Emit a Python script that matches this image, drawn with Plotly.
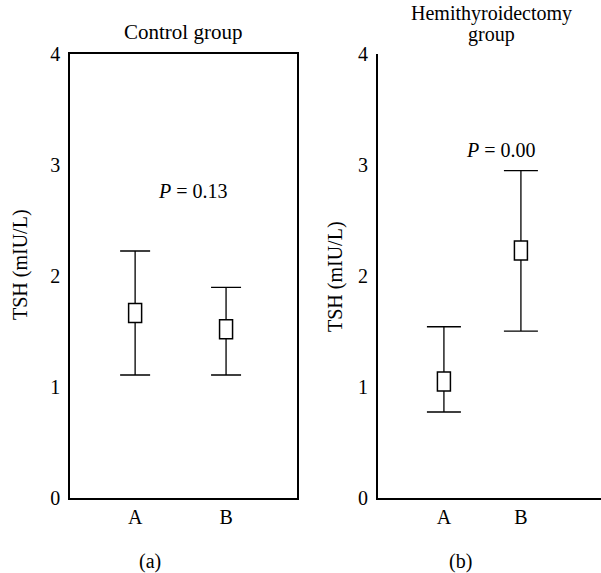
import plotly.graph_objects as go

# ---- data ----
categories = ["A", "B"]
y_ticks = [0, 1, 2, 3, 4]

control_mean = [1.667, 1.52]
control_upper = [2.225, 1.898]
control_lower = [1.108, 1.108]

hemi_mean = [1.05, 2.23]
hemi_upper = [1.543, 2.949]
hemi_lower = [0.775, 1.504]

p_control = "<i>P</i> = 0.13"
p_hemi = "<i>P</i> = 0.00"

FONT = "Liberation Serif"
FS = 20
W, H = 601, 573

fig = go.Figure()

def add_group(means, uppers, lowers, xref, yref, capw):
    xs = list(range(len(means)))
    fig.add_trace(go.Scatter(
        x=xs, y=means, mode="markers",
        marker=dict(size=1, color="rgba(0,0,0,0)"),
        error_y=dict(type="data", symmetric=False,
                     array=[u - m for u, m in zip(uppers, means)],
                     arrayminus=[m - l for m, l in zip(means, lowers)],
                     color="black", thickness=1.3, width=capw),
        xaxis=xref, yaxis=yref, showlegend=False, hoverinfo="skip"))
    ax = "x" if xref == "x" else "x2"
    ay = "y" if yref == "y" else "y2"
    for xv, m in zip(xs, means):
        fig.add_shape(type="rect", xref=ax, yref=ay,
                      xsizemode="pixel", ysizemode="pixel",
                      xanchor=xv, yanchor=m,
                      x0=-6.5, x1=6.5, y0=-9.5, y1=9.5,
                      fillcolor="white", line=dict(color="black", width=1.5),
                      layer="above")

add_group(control_mean, control_upper, control_lower, "x", "y", 15)
add_group(hemi_mean, hemi_upper, hemi_lower, "x2", "y2", 17)

def px(x):
    return x / W

def py(y):
    return (H - y) / H

ydom = [py(498), py(54)]
axis_common = dict(showgrid=False, zeroline=False, showline=True,
                   linecolor="black", linewidth=1.5, ticks="",
                   automargin=False,
                   tickfont=dict(family=FONT, size=FS, color="black"))

fig.update_layout(
    width=W, height=H,
    margin=dict(l=0, r=0, t=0, b=0, pad=0, autoexpand=False),
    paper_bgcolor="white", plot_bgcolor="white",
    xaxis=dict(domain=[px(70), px(297)], range=[-0.716, 1.78],
               tickvals=[0, 1], ticktext=categories, anchor="y",
               mirror=True, **axis_common),
    yaxis=dict(domain=ydom, range=[0, 4], tickvals=y_ticks,
               anchor="x", mirror=True, ticklabelstandoff=4, **axis_common),
    xaxis2=dict(domain=[px(377.7), 1.0], range=[-0.86, 2.04],
                tickvals=[0, 1], ticktext=categories, anchor="y2",
                **axis_common),
    yaxis2=dict(domain=ydom, range=[0, 4], tickvals=y_ticks,
                anchor="x2", ticklabelstandoff=4, **axis_common),
)

def ann(text, x, y, angle=0, size=FS):
    fig.add_annotation(text=text, xref="paper", yref="paper",
                       x=px(x), y=py(y), xanchor="center", yanchor="middle",
                       showarrow=False, textangle=angle,
                       font=dict(family=FONT, size=size, color="black"))

ann("Control group", 183, 32, size=21)
ann("Hemithyroidectomy", 491, 14, size=20)
ann("group", 491, 35, size=20)
ann("TSH (mIU/L)", 20, 265, -90)
ann("TSH (mIU/L)", 335, 276, -90)
ann(p_control, 193, 191)
ann(p_hemi, 501, 150)
ann("(a)", 150, 561)
ann("(b)", 460, 561)

fig.write_html("out.html")
